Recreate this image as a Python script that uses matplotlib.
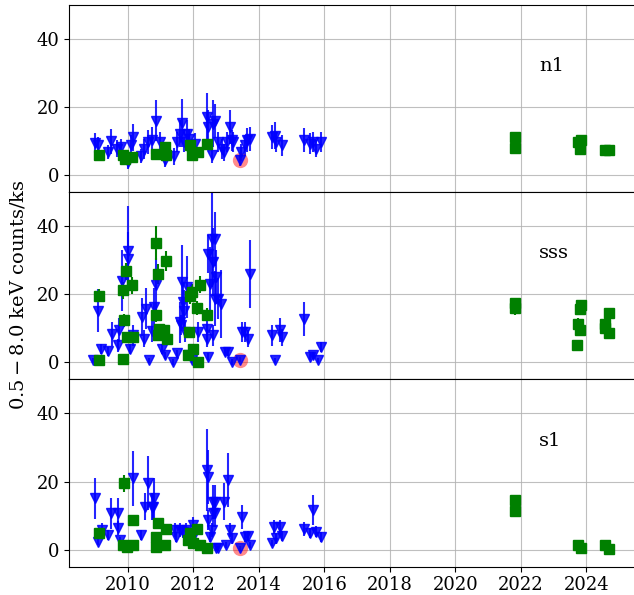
import matplotlib
matplotlib.use("Agg")
import matplotlib.pyplot as plt

plt.rcParams['font.family'] = 'DejaVu Serif'
plt.rcParams['mathtext.fontset'] = 'dejavuserif'

# ---- n1 ----
n1_ul_t = [2009.00, 2009.10, 2009.39, 2009.49, 2009.68, 2009.79, 2010.00, 2010.10, 2010.15, 2010.41,
           2010.50, 2010.63, 2010.73, 2010.88, 2010.98, 2011.14, 2011.41, 2011.51, 2011.59, 2011.67,
           2011.73, 2011.82, 2011.87, 2012.05, 2012.41, 2012.46, 2012.56, 2012.61, 2012.66, 2012.76,
           2012.87, 2012.95, 2013.02, 2013.12, 2013.17, 2013.22, 2013.42, 2013.45, 2013.58, 2013.63,
           2013.73, 2014.39, 2014.49, 2014.54, 2014.70, 2015.38, 2015.56, 2015.66, 2015.76, 2015.91]
n1_ul_v = [9.4, 8.7, 6.7, 9.9, 7.7, 8.2, 3.8, 8.7, 11.1, 5.5,
           7.7, 9.7, 10.2, 16.0, 9.7, 4.3, 5.5, 9.7, 12.1, 15.2,
           9.7, 12.1, 10.5, 9.2, 17.0, 14.1, 6.0, 15.1, 16.0, 9.7,
           7.7, 6.7, 9.7, 14.1, 10.2, 9.7, 4.3, 6.7, 8.7, 10.2,
           10.7, 11.1, 11.6, 9.7, 8.7, 10.2, 9.2, 9.7, 7.7, 9.7]
n1_ul_e = [3, 2.5, 2, 3.7, 2.5, 2.5, 2, 3, 4, 2,
           3, 3.5, 4, 6, 3, 2, 2.5, 3, 4, 7,
           3, 4, 3, 3, 7, 5, 2.5, 7, 5, 3,
           3, 2.5, 3, 5, 3, 3, 1.5, 2.5, 3, 3.5,
           3.5, 3.5, 4, 3, 3, 3.5, 3, 3, 2.5, 3]
n1_det_t = [2009.12, 2009.85, 2009.92, 2010.12, 2010.88, 2011.14, 2011.17, 2011.90, 2011.95, 2012.15,
            2012.41, 2021.81, 2021.81, 2023.74, 2023.79, 2023.84, 2024.58, 2024.70]
n1_det_v = [5.8, 5.8, 4.8, 5.3, 6.1, 8.2, 5.8, 8.7, 5.8, 6.7,
            9.2, 11.1, 8.0, 9.7, 7.7, 10.2, 7.4, 7.4]
n1_det_e = [1.2, 1.2, 1.2, 1.2, 1.2, 1.5, 1.2, 1.5, 1.2, 1.2,
            1.5, 1.0, 1.0, 1.0, 1.0, 1.0, 1.0, 1.0]

# ---- sss ----
sss_ul_t = [2008.95, 2009.10, 2009.18, 2009.39, 2009.51, 2009.71, 2009.74, 2009.82, 2010.00, 2010.00,
            2010.07, 2010.15, 2010.43, 2010.51, 2010.55, 2010.65, 2010.73, 2010.80, 2010.88, 2011.04,
            2011.14, 2011.39, 2011.51, 2011.59, 2011.62, 2011.65, 2011.68, 2011.72, 2011.75, 2011.80,
            2011.85, 2011.95, 2012.15, 2012.41, 2012.41, 2012.44, 2012.46, 2012.51, 2012.56, 2012.61,
            2012.61, 2012.66, 2012.66, 2012.71, 2012.76, 2012.84, 2012.97, 2013.07, 2013.17, 2013.42,
            2013.48, 2013.58, 2013.66, 2013.73, 2014.39, 2014.49, 2014.64, 2014.72, 2015.38, 2015.56,
            2015.66, 2015.81, 2015.91]
sss_ul_v = [0.6, 15.2, 4.0, 3.2, 8.4, 5.0, 9.4, 24.0, 32.8, 30.4,
            4.0, 7.9, 13.3, 6.9, 15.7, 0.6, 9.1, 16.2, 22.6, 4.0,
            2.1, 0.1, 2.7, 11.8, 10.9, 23.5, 17.7, 15.2, 8.9, 22.1,
            2.1, 0.6, 8.9, 9.9, 6.9, 1.6, 31.8, 23.0, 36.2, 29.4,
            7.9, 18.7, 36.2, 25.0, 18.7, 17.2, 3.0, 3.0, 0.1, 0.8,
            8.9, 8.9, 6.9, 26.0, 7.9, 0.6, 9.4, 7.4, 12.8, 1.6,
            2.1, 0.6, 4.5]
sss_ul_e = [0.8, 6.4, 1.5, 1.2, 3.5, 2, 3.5, 9, 13, 8,
            1.5, 3, 5.5, 2.5, 6, 0.8, 3, 5.5, 8, 1.5,
            1, 0.8, 1, 6, 3, 11, 6, 6, 3, 9,
            1, 0.8, 3, 3.5, 2.5, 1, 5.5, 11, 14, 10,
            3, 8, 8, 8, 6, 10, 1.2, 1.2, 0.8, 0.8,
            3, 3, 2.5, 10, 3, 0.8, 3.5, 2.5, 5, 0.8,
            1, 0.8, 1.5]
sss_det_t = [2009.12, 2009.13, 2009.85, 2009.87, 2009.90, 2009.94, 2009.97, 2010.12, 2010.17, 2010.86,
             2010.88, 2010.93, 2010.93, 2010.96, 2011.12, 2011.16, 2011.19, 2011.85, 2011.88, 2011.90,
             2011.95, 2011.98, 2012.12, 2012.15, 2012.20, 2012.41, 2021.81, 2021.81, 2023.72, 2023.74,
             2023.79, 2023.79, 2023.84, 2024.55, 2024.58, 2024.70, 2024.70]
sss_det_v = [19.6, 0.6, 1.1, 21.1, 12.3, 26.7, 7.4, 22.6, 7.4, 35.1,
             13.8, 26.0, 7.9, 9.9, 9.4, 29.7, 6.9, 2.1, 8.9, 19.6,
             20.6, 3.8, 15.9, 0.1, 22.8, 14.0, 16.0, 17.3, 5.1, 11.4,
             9.5, 15.8, 16.8, 11.2, 10.0, 8.5, 14.4]
sss_det_e = [2, 0.8, 0.8, 2.5, 2, 2.5, 1.5, 2.5, 1.5, 5,
             2, 3, 1.5, 1.5, 1.5, 3, 1.5, 1, 1.5, 2.5,
             2.5, 1, 2, 0.8, 2.5, 2, 2, 1.5, 1, 1.5,
             1.5, 1.5, 1.5, 1.5, 1.5, 1.5, 1.5]

# ---- s1 ----
s1_ul_t = [2009.00, 2009.10, 2009.21, 2009.41, 2009.48, 2009.71, 2009.71, 2009.77, 2010.17, 2010.41,
           2010.53, 2010.63, 2010.73, 2010.78, 2010.80, 2011.44, 2011.49, 2011.59, 2011.70, 2011.78,
           2011.98, 2012.05, 2012.41, 2012.44, 2012.46, 2012.51, 2012.56, 2012.61, 2012.61, 2012.66,
           2012.66, 2012.71, 2012.76, 2012.95, 2013.00, 2013.05, 2013.12, 2013.17, 2013.42, 2013.48,
           2013.58, 2013.66, 2013.73, 2014.39, 2014.47, 2014.54, 2014.64, 2014.72, 2015.38, 2015.56,
           2015.66, 2015.76, 2015.91]
s1_ul_v = [15.1, 2.3, 5.8, 4.3, 10.7, 10.7, 6.3, 2.8, 20.9, 4.3,
           12.6, 19.5, 12.6, 12.6, 15.1, 5.8, 3.8, 5.8, 5.3, 5.8,
           7.2, 4.8, 23.4, 21.4, 8.7, 3.8, 5.8, 14.1, 10.7, 14.1,
           10.7, 0.4, 0.4, 14.1, 1.4, 20.4, 5.8, 3.3, 0.4, 9.7,
           3.8, 4.0, 1.4, 1.9, 6.7, 3.3, 6.7, 4.0, 6.1, 4.8,
           11.6, 5.3, 3.8]
s1_ul_e = [6, 1, 2, 1.5, 4.5, 4.5, 2, 1, 8, 1.5,
           4, 8, 4, 4, 6, 2, 1.5, 2, 2, 2,
           2.5, 2, 12, 8, 3, 1.5, 2, 5, 4, 5,
           4, 0.8, 0.8, 5.5, 0.8, 8, 2, 1.5, 0.8, 3.5,
           1.5, 1.5, 0.8, 0.8, 2, 1.5, 2, 1.5, 2, 1.5,
           4.5, 1.5, 1.5]
s1_det_t = [2009.12, 2009.87, 2009.90, 2009.97, 2010.15, 2010.15, 2010.86, 2010.88, 2010.93, 2011.14,
            2011.17, 2011.85, 2011.90, 2012.00, 2012.12, 2012.20, 2012.41, 2021.81, 2021.81, 2023.74,
            2023.84, 2024.58, 2024.70]
s1_det_v = [4.8, 1.4, 19.5, 0.9, 1.4, 8.7, 3.8, 0.9, 7.7, 1.4,
            6.0, 2.8, 4.8, 1.9, 6.0, 1.4, 0.4, 14.6, 11.3, 1.4,
            0.4, 1.4, 0.1]
s1_det_e = [1.2, 0.8, 2.5, 0.8, 0.8, 1.5, 1, 0.8, 1.5, 0.8,
            1.2, 1, 1.2, 0.8, 1.2, 0.8, 0.8, 1.5, 1.5, 0.8,
            0.8, 0.8, 0.8]

# flagged observation (pink circle)
flag_t = 2013.42
flag_v = {'n1': 4.3, 'sss': 0.8, 's1': 0.4}

regions = ['n1', 'sss', 's1']
data = {
    'n1': (n1_ul_t, n1_ul_v, n1_ul_e, n1_det_t, n1_det_v, n1_det_e),
    'sss': (sss_ul_t, sss_ul_v, sss_ul_e, sss_det_t, sss_det_v, sss_det_e),
    's1': (s1_ul_t, s1_ul_v, s1_ul_e, s1_det_t, s1_det_v, s1_det_e),
}

fig, axes = plt.subplots(3, 1, sharex=True, figsize=(6.34, 5.95), dpi=100)
fig.subplots_adjust(left=0.1093, right=1.0, top=0.992, bottom=0.0476, hspace=0)

for ax, name in zip(axes, regions):
    ul_t, ul_v, ul_e, det_t, det_v, det_e = data[name]
    ax.set_axisbelow(True)
    ax.grid(True, color='#b0b0b0', linewidth=0.8, alpha=0.8)
    ax.errorbar(ul_t, ul_v, yerr=ul_e, fmt='v', color='blue', ms=7, elinewidth=1.5, alpha=0.85)
    ax.errorbar(det_t, det_v, yerr=det_e, fmt='s', color='green', ms=6.5, elinewidth=1.5)
    ax.plot([flag_t], [flag_v[name]], 'o', color='red', alpha=0.45, ms=11, mec='none')
    ax.text(2022.55, 32, name, fontsize=14, ha='left', va='center')
    ax.set_ylim(-5, 50)
    ax.set_yticks([0, 20, 40])
    ax.tick_params(labelsize=13)
    ax.spines['right'].set_visible(False)

axes[-1].set_xlim(2008.22, 2025.45)
axes[-1].set_xticks(range(2010, 2025, 2))

fig.text(0.028, 0.505, r'$0.5-8.0$ keV counts/ks', rotation=90, ha='center', va='center', fontsize=14)

plt.savefig('out.png', dpi=100)
